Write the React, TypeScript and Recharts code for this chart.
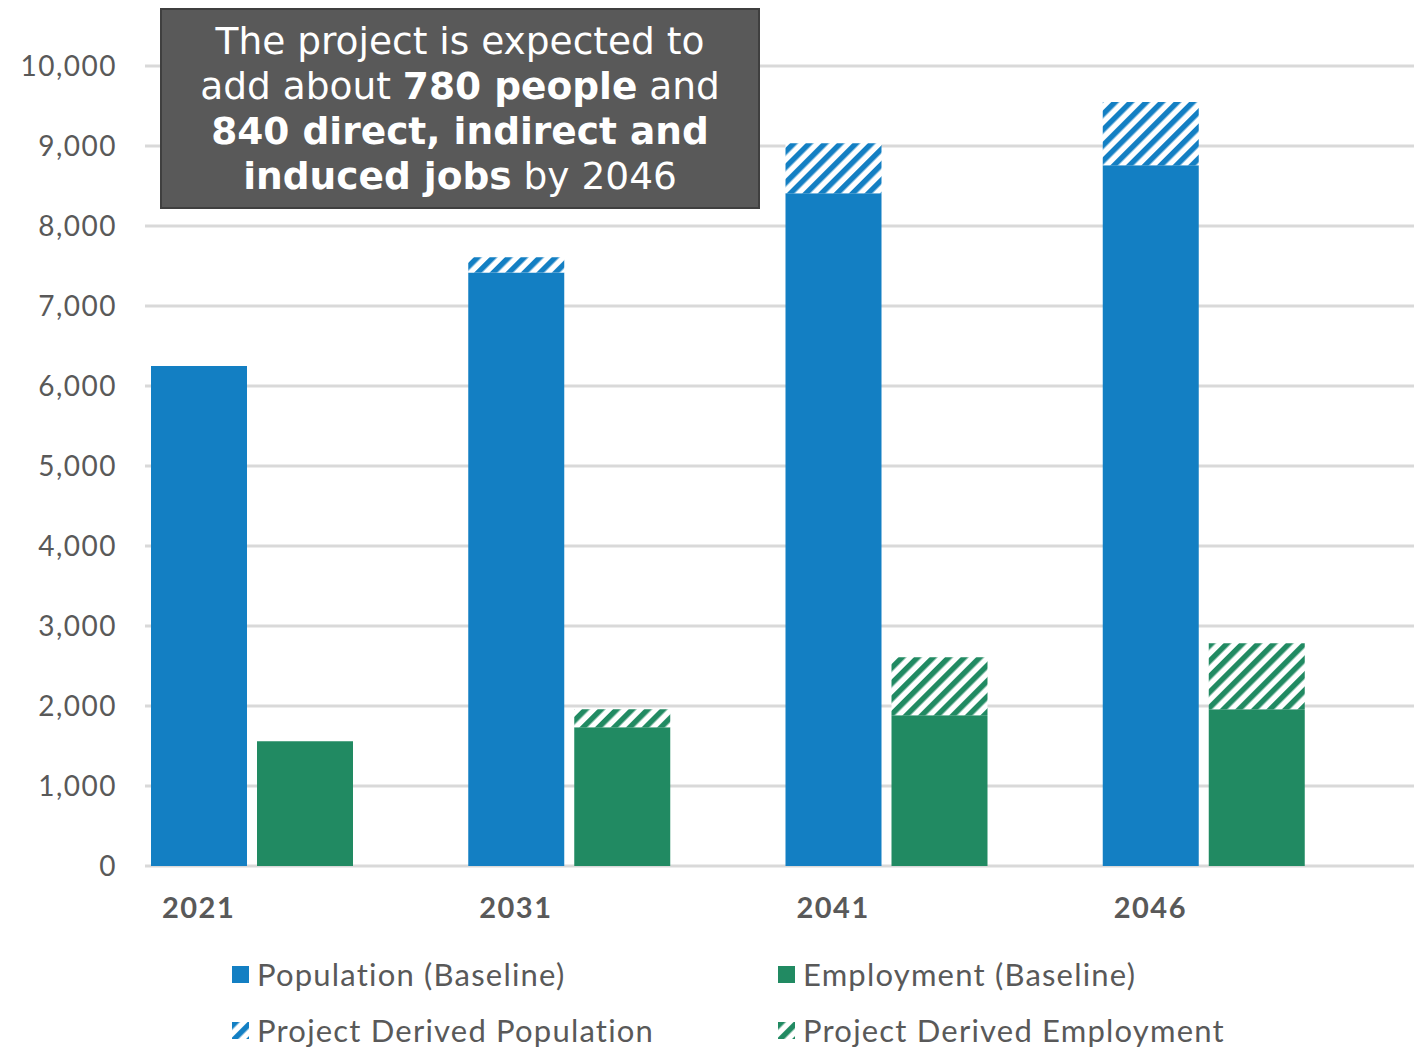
import { BarChart, Bar, XAxis, YAxis, CartesianGrid } from 'recharts';

const years = ['2021', '2031', '2041', '2046'];
const populationBaseline = [6250, 7420, 8410, 8760];
const populationDerived = [0, 190, 625, 790];
const employmentBaseline = [1560, 1735, 1885, 1960];
const employmentDerived = [0, 225, 725, 825];
const yTicks = [0, 1000, 2000, 3000, 4000, 5000, 6000, 7000, 8000, 9000, 10000];

const BLUE = '#137FC3';
const GREEN = '#218A62';
const TEXT = '#595959';

const legendItems = [
  { label: 'Population (Baseline)', color: BLUE, hatch: false },
  { label: 'Employment (Baseline)', color: GREEN, hatch: false },
  { label: 'Project Derived Population', color: BLUE, hatch: true },
  { label: 'Project Derived Employment', color: GREEN, hatch: true },
];

const data = years.map((year, i) => ({
  year,
  popBase: populationBaseline[i],
  popDerived: populationDerived[i],
  empBase: employmentBaseline[i],
  empDerived: employmentDerived[i],
}));

const YearTick = ({ x, y, payload }: any) => (
  <text
    x={x - 105}
    y={y}
    dy={44}
    textAnchor="middle"
    fill={TEXT}
    fontFamily="Lato"
    fontWeight={700}
    fontSize={29}
    letterSpacing={1.5}
  >
    {payload.value}
  </text>
);

const Hatch = ({ id, color }: { id: string; color: string }) => (
  <pattern id={id} patternUnits="userSpaceOnUse" width={11} height={11} patternTransform="rotate(45)">
    <rect width={11} height={11} fill="#fff" />
    <rect width={5.5} height={11} fill={color} />
  </pattern>
);

export default function App() {
  return (
    <div style={{ position: 'relative', width: 1416, height: 1048, background: '#fff', fontFamily: 'Lato' }}>
      <style>{'body{margin:0}'}</style>
      <BarChart
        width={1416}
        height={926}
        data={data}
        margin={{ top: 66, right: 2, left: 0, bottom: 0 }}
        barGap={10}
      >
        <defs>
          <Hatch id="hatchBlue" color={BLUE} />
          <Hatch id="hatchGreen" color={GREEN} />
        </defs>
        <CartesianGrid vertical={false} stroke="#D9D9D9" strokeWidth={3} />
        <XAxis dataKey="year" axisLine={false} tickLine={false} height={60} tick={<YearTick />} interval={0} />
        <YAxis
          domain={[0, 10000]}
          ticks={yTicks}
          axisLine={false}
          tickLine={false}
          width={145}
          tickMargin={22}
          tickFormatter={(v: number) => v.toLocaleString('en-US')}
          tick={{ fill: TEXT, fontSize: 28, fontFamily: 'Lato', letterSpacing: 1.5 }}
        />
        <Bar dataKey="popBase" stackId="pop" fill={BLUE} barSize={96} isAnimationActive={false} />
        <Bar dataKey="popDerived" stackId="pop" fill="url(#hatchBlue)" barSize={96} isAnimationActive={false} />
        <Bar dataKey="empBase" stackId="emp" fill={GREEN} barSize={96} isAnimationActive={false} />
        <Bar dataKey="empDerived" stackId="emp" fill="url(#hatchGreen)" barSize={96} isAnimationActive={false} />
        <Bar dataKey="spacer" stackId="spacer" fill="none" barSize={94} isAnimationActive={false} />
      </BarChart>

      <div
        style={{
          position: 'absolute',
          left: 160,
          top: 8,
          width: 600,
          height: 201,
          boxSizing: 'border-box',
          background: '#595959',
          border: '2px solid #3F3F3F',
          color: '#fff',
          fontFamily: 'DejaVu Sans',
          fontSize: 37.5,
          lineHeight: '45px',
          textAlign: 'center',
          paddingTop: 9,
        }}
      >
        The project is expected to
        <br />
        add about <b>780 people</b> and
        <br />
        <b>840 direct, indirect and</b>
        <br />
        <b>induced jobs</b> by 2046
      </div>

      {legendItems.map((item, i) => {
        const left = i % 2 === 0 ? 232 : 778;
        const top = i < 2 ? 974 : 1030;
        return (
          <div
            key={item.label}
            style={{ position: 'absolute', left, top: top - 20, height: 40, display: 'flex', alignItems: 'center' }}
          >
            <svg width={17} height={17} style={{ marginRight: 8 }}>
              {item.hatch ? (
                <rect width={17} height={17} fill={`url(#${item.color === BLUE ? 'hatchBlue' : 'hatchGreen'})`} />
              ) : (
                <rect width={17} height={17} fill={item.color} />
              )}
            </svg>
            <span style={{ fontSize: 31, color: TEXT, fontFamily: 'Lato', letterSpacing: 1.2 }}>{item.label}</span>
          </div>
        );
      })}
    </div>
  );
}
